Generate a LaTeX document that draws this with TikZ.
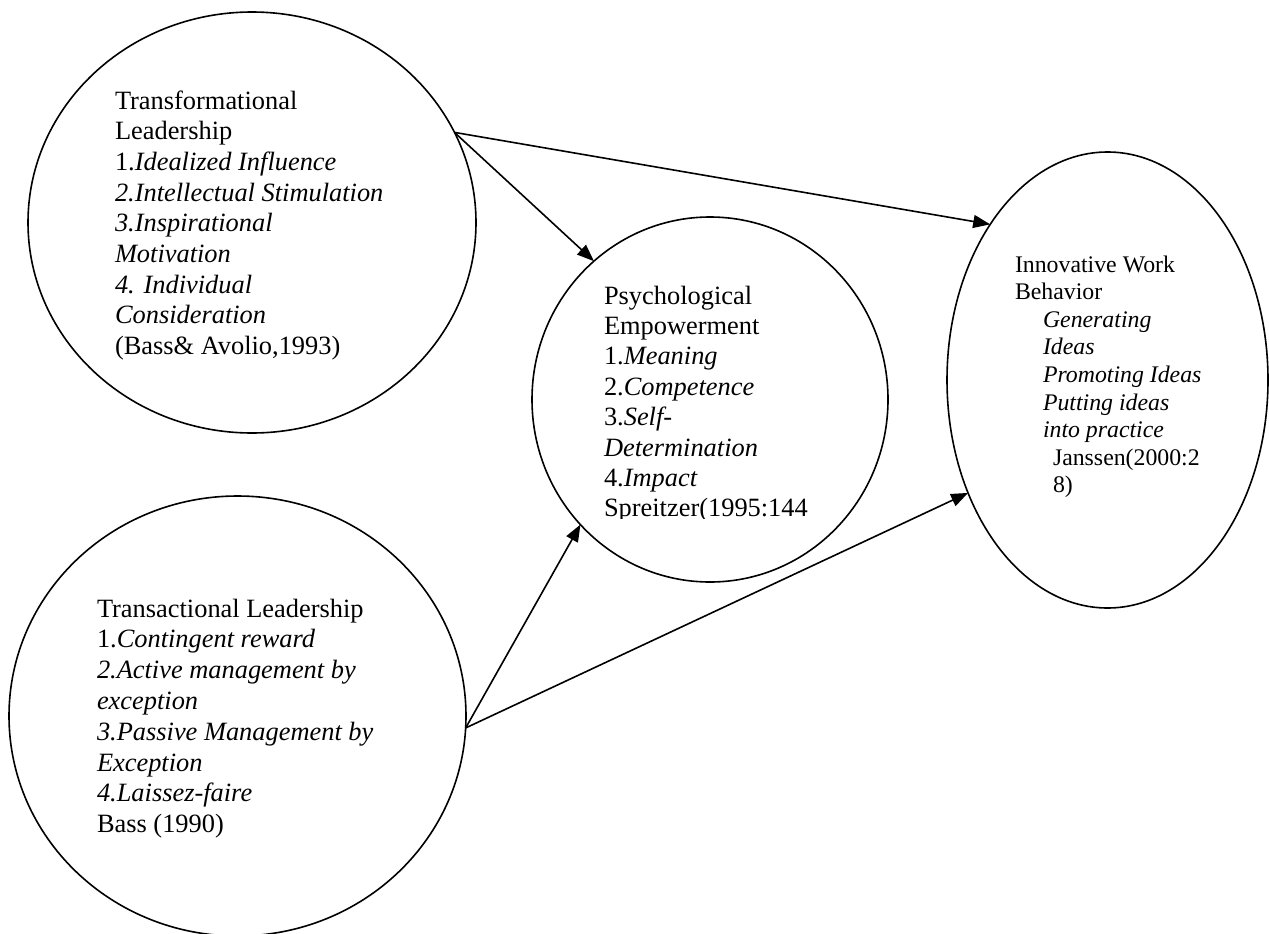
\documentclass[tikz,border=0pt]{standalone}
\usepackage{fontspec}
\setmainfont{Liberation Serif}
\usetikzlibrary{shapes.geometric,arrows.meta}
\begin{document}
\begin{tikzpicture}[x=1pt,y=-1pt,
  blob/.style={draw, ellipse, line width=1.6pt, inner sep=0pt, outer sep=0pt},
  txt/.style={anchor=base west, inner sep=0pt, outer sep=0pt, align=left},
  bigfont/.style={font=\fontsize{26.4}{30.7}\selectfont},
  smallfont/.style={font=\fontsize{23.8}{27.6}\selectfont},
  link/.style={line width=1.6pt, -{Triangle[length=17pt,width=13pt]}}]
\useasboundingbox (0,0) rectangle (1269,934);
% ellipses
\node[blob, minimum width=448pt, minimum height=421pt] (tf) at (252,222.5) {};
\node[blob, minimum width=457pt, minimum height=440pt] (tr) at (237.5,716) {};
\node[blob, minimum width=356pt, minimum height=365pt] (ps) at (710,399.5) {};
\node[blob, minimum width=321pt, minimum height=456pt] (iw) at (1107.5,380) {};
% texts (anchor = baseline of the last line)
\node[txt, bigfont] (tftext) at (115,354.6) {Transformational\\
Leadership\\
1.\textit{Idealized Influence}\\
\textit{2.Intellectual Stimulation}\\
\textit{3.Inspirational}\\
\textit{Motivation}\\
\textit{4. Individual}\\
\textit{Consideration}\\
(Bass\& Avolio,1993)};
\node[txt, font=\fontsize{26.4}{30.8}\selectfont] (trtext) at (97,832.6) {Transactional Leadership\\
1.\textit{Contingent reward}\\
\textit{2.Active management by}\\
\textit{exception}\\
\textit{3.Passive Management by}\\
\textit{Exception}\\
\textit{4.Laissez-faire}\\
Bass (1990)};
\begin{scope}
\clip (560,200) rectangle (880,518);
\node[txt, font=\fontsize{26.4}{30.4}\selectfont] (pstext) at (604,516.8) {Psychological\\
Empowerment\\
1.\textit{Meaning}\\
2.\textit{Competence}\\
3.\textit{Self-}\\
\textit{Determination}\\
4.\textit{Impact}\\
Spreitzer(1995:144};
\end{scope}
\node[txt, smallfont] (iwtext) at (1015,492.8) {Innovative Work\\
Behavior\\
\hspace*{28pt}\textit{Generating}\\
\hspace*{28pt}\textit{Ideas}\\
\hspace*{28pt}\textit{Promoting Ideas}\\
\hspace*{28pt}\textit{Putting ideas}\\
\hspace*{28pt}\textit{into practice}\\
\hspace*{38pt}Janssen(2000:2\\
\hspace*{38pt}8)};
% connectors
\draw[link] (tf.24) -- (ps.130);
\draw[link] (tf.24) -- (iw.127);
\draw[link] (tr.-3) -- (ps.-136);
\draw[link] (tr.-3) -- (iw.-141);
\end{tikzpicture}
\end{document}
